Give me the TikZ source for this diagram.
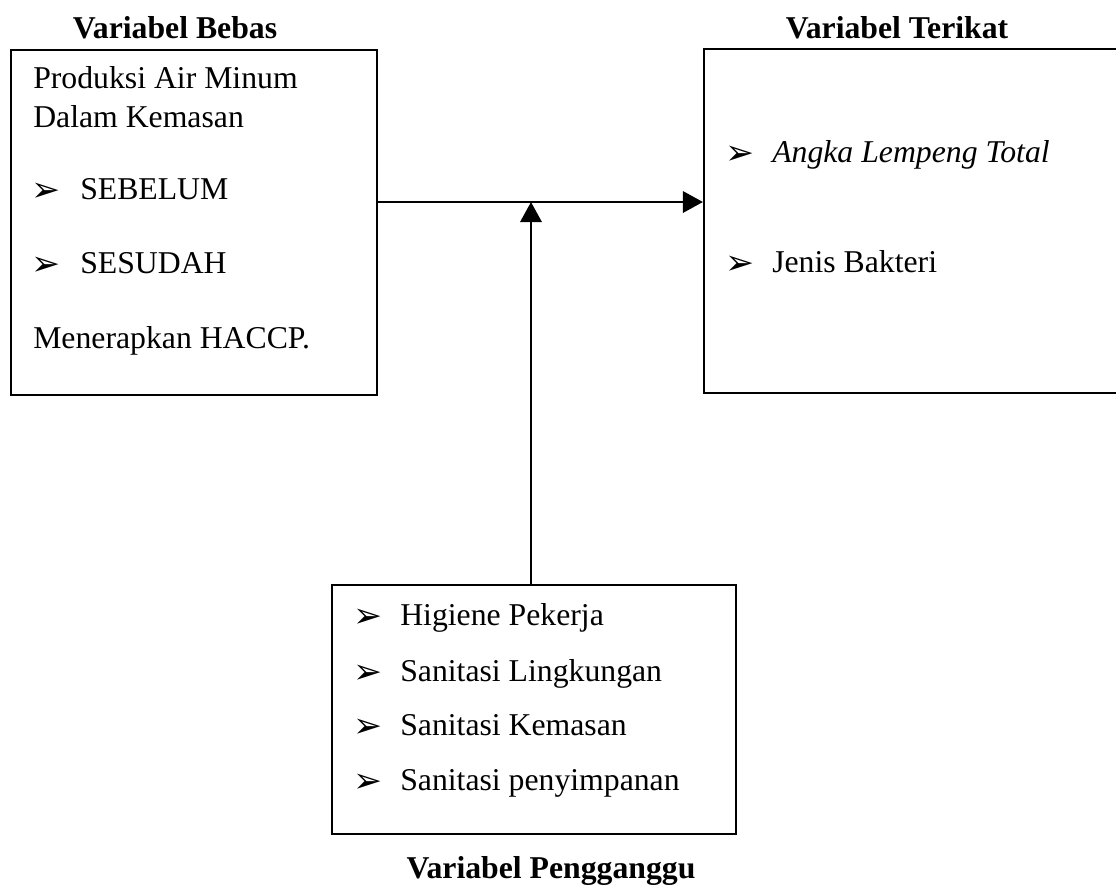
\documentclass[tikz,border=0pt]{standalone}
\usepackage{fontspec}
\setmainfont{Liberation Serif}
\newfontfamily\symfont{DejaVu Sans}
\usetikzlibrary{arrows.meta,fit}
\begin{document}
\begin{tikzpicture}[x=0.75pt,y=-0.75pt,
  box/.style={draw, line width=1.6pt, inner sep=0pt},
  txt/.style={anchor=base west, inner sep=0pt, font=\fontsize{23.8}{28}\selectfont},
  head/.style={anchor=base, inner sep=0pt, font=\fontsize{23.8}{28}\selectfont\bfseries},
  bul/.style={anchor=base west, inner sep=0pt, yshift=-1.5pt, font=\fontsize{26}{30}\symfont},
  arr/.style={line width=1.6pt, -{Triangle[length=15pt,width=16pt]}}]
\useasboundingbox (0,0) rectangle (1116,889);
\clip (0,0) rectangle (1116,889);
% boxes
\node[box, fit={(11,50) (377,395)}] (lb) {};
\node[box, fit={(704,49) (1140,393)}] (rb) {};
\node[box, fit={(332,585) (736,834)}] (bb) {};
% headings
\node[head] (h1) at (175,38) {Variabel Bebas};
\node[head] (h2) at (897,38) {Variabel Terikat};
\node[head] (h3) at (551,878) {Variabel Pengganggu};
% left box
\node[txt] (l1) at (33,88) {Produksi Air Minum};
\node[txt] (l2) at (33,127) {Dalam Kemasan};
\node[bul] (lb1) at (31,199) {➢};
\node[txt] (l3) at (80,199) {SEBELUM};
\node[bul] (lb2) at (31,273) {➢};
\node[txt] (l4) at (80,273) {SESUDAH};
\node[txt] (l5) at (33,348) {Menerapkan HACCP.};
% right box
\node[bul] (rb1) at (725,162) {➢};
\node[txt] (r1) at (772,162) {\itshape Angka Lempeng Total};
\node[bul] (rb2) at (725,272) {➢};
\node[txt] (r2) at (772,272) {Jenis Bakteri};
% bottom box
\node[bul] (bb1) at (353,625) {➢};
\node[txt] (b1) at (400,625) {Higiene Pekerja};
\node[bul] (bb2) at (353,681) {➢};
\node[txt] (b2) at (400,681) {Sanitasi Lingkungan};
\node[bul] (bb3) at (353,735) {➢};
\node[txt] (b3) at (400,735) {Sanitasi Kemasan};
\node[bul] (bb4) at (353,790) {➢};
\node[txt] (b4) at (400,790) {Sanitasi penyimpanan};
% connectors
\coordinate (j) at (531,202);
\draw[arr] (lb.east |- j) -- (rb.west |- j);
\draw[arr] (j |- bb.north) -- (j);
\end{tikzpicture}
\end{document}
